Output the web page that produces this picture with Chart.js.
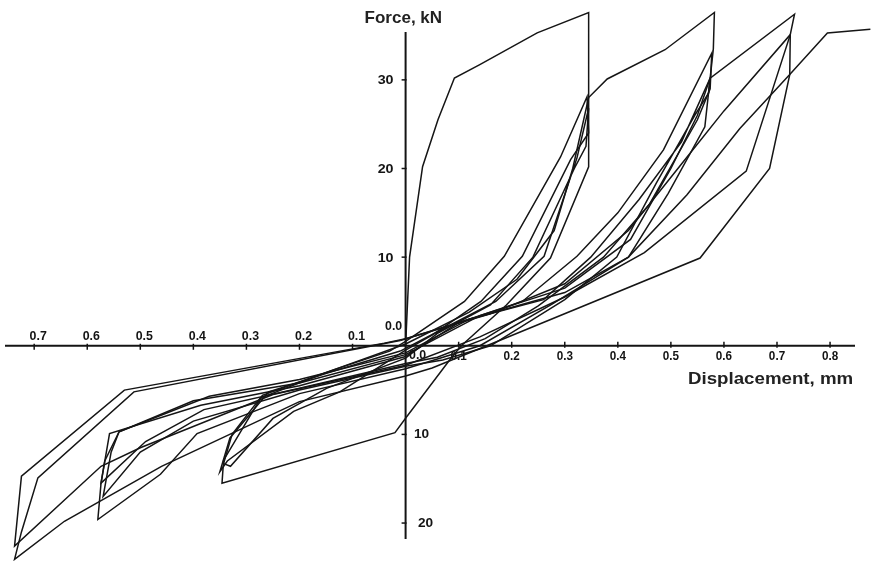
<!DOCTYPE html>
<html>
<head>
<meta charset="utf-8">
<script src="https://cdn.jsdelivr.net/npm/chart.js@4.4.1/dist/chart.umd.min.js"></script>
<style>
  html, body { margin: 0; padding: 0; background: #fff; }
  #wrap { width: 873px; height: 561px; position: relative; }
</style>
</head>
<body>
<div id="wrap"><canvas id="chartLoops"></canvas></div>
<script>
// Force (kN) against displacement (mm), cyclic test
const xTicksNeg = [-0.7, -0.6, -0.5, -0.4, -0.3, -0.2, -0.1];
const xTicksPos = [0.1, 0.2, 0.3, 0.4, 0.5, 0.6, 0.7, 0.8];
const yTicks = [30, 20, 10, -10, -20];

// first loading and first cycle at 0.35 mm
const cycle1 = [[0,0],[0.0075,10],[0.032,20.2],[0.061,25.5],[0.092,30.2],[0.139,31.7],[0.248,35.3],[0.345,37.6],
  [0.345,20.2],[0.273,9.9],[0.19,4.6],[0.105,0],[0.083,-1.6],[0.001,-8.1],[-0.02,-9.8],[-0.346,-15.5],
  [-0.343,-12.9],[-0.31,-9.6],[-0.27,-5.6],[-0.15,-3],[-0.03,-0.6],[0,0.5]];
const cycle2 = [[0,0.5],[0.111,5],[0.186,10.1],[0.292,21.3],[0.342,28.1],[0.345,24],[0.311,21],[0.22,10.1],
  [0.142,5],[0.05,1.2],[0,-0.5],[-0.124,-5.2],[-0.211,-7.4],[-0.336,-13],[-0.35,-14.2],[-0.331,-10.4],
  [-0.258,-5.2],[-0.149,-3.1],[-0.01,-0.6]];
const cycle3 = [[-0.01,-0.6],[0.08,2.2],[0.17,5],[0.261,10.1],[0.323,21.2],[0.345,26.8],[0.34,22.5],[0.318,20],
  [0.24,10],[0.16,4.6],[0.06,1.4],[0,-1.4],[-0.149,-4.8],[-0.25,-8.2],[-0.33,-13.6],[-0.343,-13.3],
  [-0.327,-10],[-0.274,-5.9],[-0.14,-2.8],[0,0.2]];
// cycles at 0.58 mm
const cycle4 = [[0,0.2],[0.12,3.8],[0.21,7.5],[0.28,13],[0.315,20],[0.345,28],[0.38,30.1],[0.489,33.4],[0.582,37.6],
  [0.58,33.5],[0.574,30.2],[0.564,24.7],[0.495,17.2],[0.42,10],[0.276,4.7],[0.14,0],[0.06,-1.5],[0,-2.6],
  [-0.2,-5.4],[-0.393,-9.9],[-0.462,-14.5],[-0.58,-19.6],[-0.574,-15.5],[-0.558,-9.9],[-0.386,-6.7],
  [-0.2,-4.5],[0,-1.2]];
const cycle5 = [[0,-1.2],[0.1,2.6],[0.22,5],[0.323,10.1],[0.4,15],[0.486,22.1],[0.577,33],[0.574,29],[0.55,25.5],
  [0.46,16],[0.373,10],[0.25,4.5],[0.15,0.8],[0.06,-1.3],[0,-2],[-0.2,-4.8],[-0.38,-7.2],[-0.49,-10.8],
  [-0.574,-15.5],[-0.567,-13],[-0.54,-9.7],[-0.37,-5.7],[-0.2,-3.8],[0,-0.8]];
const cycle6 = [[0,-0.8],[0.12,3],[0.26,5.2],[0.349,10],[0.44,16.5],[0.52,23],[0.574,30.2],[0.571,28.5],[0.545,26],
  [0.473,18.4],[0.398,10],[0.3,5.2],[0.16,0],[0.07,-1.6],[0,-2.3],[-0.2,-5],[-0.4,-8.5],[-0.5,-12],
  [-0.57,-17],[-0.555,-12],[-0.54,-9.7],[-0.4,-6.2],[-0.2,-4.2],[0,-1]];
// cycles at 0.73 mm and last loading
const cycle7 = [[0,-1],[0.14,3.4],[0.3,6.5],[0.424,12],[0.5,20],[0.55,26],[0.574,30.2],[0.733,37.4],[0.725,35.1],
  [0.642,19.7],[0.45,10.5],[0.3,5.5],[0.14,1],[0,-2.2],[-0.25,-5.5],[-0.5,-11.5],[-0.574,-13.6],
  [-0.737,-22.6],[-0.724,-14.7],[-0.53,-5],[-0.04,0.3],[0,0.8]];
const cycle8 = [[0,0.8],[0.16,3.6],[0.3,7],[0.42,13],[0.52,20.5],[0.6,26.5],[0.725,35.1],[0.724,30.6],[0.686,20],
  [0.555,9.9],[0.153,0],[0.05,-2.5],[0,-3.4],[-0.2,-6.3],[-0.46,-13.6],[-0.643,-19.8],[-0.737,-24.1],
  [-0.724,-21],[-0.693,-14.9],[-0.512,-5.2],[-0.01,0.6]];
const lastLoad = [[-0.01,0.6],[0.12,3],[0.3,6],[0.42,10],[0.53,17],[0.63,24.5],[0.724,30.6],[0.795,35.3],[0.876,35.7]];

const loops = [cycle1, cycle2, cycle3, cycle4, cycle5, cycle6, cycle7, cycle8, lastLoad];

// axes, tick marks and labels drawn on the chart's own scales
const crossAxes = {
  id: 'crossAxes',
  beforeDatasetsDraw(chart) {
    const ctx = chart.ctx;
    const xs = chart.scales.x, ys = chart.scales.y;
    const x0 = xs.getPixelForValue(0), y0 = ys.getPixelForValue(0);
    ctx.save();
    ctx.strokeStyle = '#141414';
    ctx.fillStyle = '#141414';
    ctx.lineWidth = 2;
    ctx.beginPath();
    ctx.moveTo(xs.left, y0); ctx.lineTo(xs.right, y0);
    ctx.moveTo(x0, ys.top); ctx.lineTo(x0, ys.bottom);
    ctx.stroke();

    ctx.lineWidth = 1.5;
    ctx.font = 'bold 13px "Liberation Sans", Arial, sans-serif';
    ctx.textAlign = 'center';
    ctx.textBaseline = 'middle';
    const txt = (s, x, y, sx) => { ctx.save(); ctx.translate(x, y); ctx.scale(sx, 1); ctx.fillText(s, 0, 0); ctx.restore(); };
    xTicksNeg.forEach(v => {
      const px = xs.getPixelForValue(v);
      ctx.beginPath(); ctx.moveTo(px, y0 - 2); ctx.lineTo(px, y0 + 4); ctx.stroke();
      txt(Math.abs(v).toFixed(1), px + 4, y0 - 9, 0.95);
    });
    xTicksPos.forEach(v => {
      const px = xs.getPixelForValue(v);
      ctx.beginPath(); ctx.moveTo(px, y0 - 4); ctx.lineTo(px, y0 + 2); ctx.stroke();
      txt(v.toFixed(1), px, y0 + 11, 0.9);
    });
    txt('0.0', x0 - 12, y0 - 19, 0.95);
    txt('0.0', x0 + 12, y0 + 10, 0.95);
    yTicks.forEach(v => {
      const py = ys.getPixelForValue(v);
      ctx.beginPath(); ctx.moveTo(x0 - 4, py); ctx.lineTo(x0 + 1, py); ctx.stroke();
      if (v > 0) txt(String(v), x0 - 20, py + 1, 1.1);
      else txt(String(Math.abs(v)), x0 + (v === -10 ? 16 : 20), py, 1.05);
    });

    ctx.font = 'bold 17px "Liberation Sans", Arial, sans-serif';
    ctx.textAlign = 'left';
    ctx.textBaseline = 'alphabetic';
    ctx.fillStyle = '#222';
    txt('Force, kN', x0 - 41, 23, 1.0);
    txt('Displacement, mm', 688, 384, 1.1);
    ctx.restore();
  }
};

const ctxLoops = document.getElementById('chartLoops').getContext('2d');
const chartLoops = new Chart(ctxLoops, {
  type: 'scatter',
  data: {
    datasets: loops.map((pts, i) => ({
      label: 'cycle ' + (i + 1),
      data: pts.map(p => ({ x: p[0], y: p[1] })),
      showLine: true,
      borderColor: '#151515',
      borderWidth: 1.5,
      pointRadius: 0,
      tension: 0,
      clip: false
    }))
  },
  options: {
    responsive: true,
    maintainAspectRatio: false,
    animation: false,
    layout: { padding: { left: 5, right: 18, top: 32, bottom: 22 } },
    scales: {
      x: { type: 'linear', min: -0.755, max: 0.847, display: false },
      y: { type: 'linear', min: -21.8, max: 35.4, display: false }
    },
    plugins: {
      legend: { display: false },
      tooltip: { enabled: false }
    }
  },
  plugins: [crossAxes]
});
</script>
</body>
</html>
